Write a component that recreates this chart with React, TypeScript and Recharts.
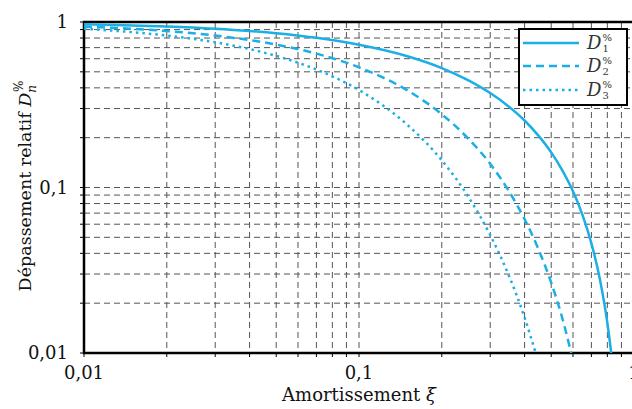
import React from 'react';
import { LineChart, Line, XAxis, YAxis, CartesianGrid, ReferenceArea, Legend } from 'recharts';

const COLOR = '#1AAFE6';
const FONT = '"DejaVu Serif", serif';

// Damping values (xi) and relative overshoot D_n
const xi1 = [0.01, 0.015, 0.02, 0.03, 0.04, 0.05, 0.07, 0.1, 0.15, 0.2, 0.25, 0.3, 0.35, 0.4, 0.45, 0.5, 0.55, 0.6, 0.65, 0.7, 0.75, 0.78, 0.8, 0.82, 0.826];
const d1 = [0.969, 0.954, 0.939, 0.91, 0.882, 0.855, 0.802, 0.729, 0.621, 0.527, 0.444, 0.372, 0.309, 0.254, 0.205, 0.163, 0.126, 0.0948, 0.0681, 0.046, 0.0284, 0.0199, 0.0152, 0.0111, 0.01];

const xi2 = [0.01, 0.015, 0.02, 0.03, 0.04, 0.05, 0.07, 0.1, 0.15, 0.2, 0.25, 0.3, 0.35, 0.4, 0.45, 0.5, 0.55, 0.591];
const d2 = [0.939, 0.91, 0.882, 0.828, 0.778, 0.73, 0.644, 0.532, 0.386, 0.277, 0.197, 0.139, 0.0956, 0.0644, 0.0421, 0.0266, 0.016, 0.01];

const xi3 = [0.01, 0.015, 0.02, 0.03, 0.04, 0.05, 0.07, 0.1, 0.15, 0.2, 0.25, 0.3, 0.35, 0.4, 0.439];
const d3 = [0.91, 0.868, 0.828, 0.754, 0.686, 0.624, 0.516, 0.388, 0.239, 0.146, 0.0877, 0.0516, 0.0296, 0.0164, 0.01];

const xTicks = [0.01, 0.02, 0.03, 0.04, 0.05, 0.06, 0.07, 0.08, 0.09, 0.1, 0.2, 0.3, 0.4, 0.5, 0.6, 0.7, 0.8, 0.9, 1];
const yTicks = [0.01, 0.02, 0.03, 0.04, 0.05, 0.06, 0.07, 0.08, 0.09, 0.1, 0.2, 0.3, 0.4, 0.5, 0.6, 0.7, 0.8, 0.9, 1];
const majorTicks = [0.01, 0.1, 1];
const majorLabels = ['0,01', '0,1', '1'];

const seriesNames = ['1', '2', '3'];
const seriesDash = ['', '8 5', '2.5 4'];

const toData = (xs: number[], ys: number[]) => xs.map((x, i) => ({ x, y: ys[i] }));
const s1 = toData(xi1, d1);
const s2 = toData(xi2, d2);
const s3 = toData(xi3, d3);

const fmt = (v: number) => {
  const i = majorTicks.findIndex((m) => Math.abs(m - v) < 1e-9);
  return i >= 0 ? majorLabels[i] : '';
};

const tickStyle = { fontFamily: FONT, fontSize: 18, fill: '#111' };

const renderXLabel = (props: any) => {
  const vb = props.viewBox || {};
  return (
    <text x={vb.x + vb.width / 2} y={401} textAnchor="middle" fontFamily={FONT} fontSize={18} fill="#111">
      Amortissement <tspan fontStyle="italic">ξ</tspan>
    </text>
  );
};

const renderYLabel = () => (
  <text transform="translate(31,186) rotate(-90)" textAnchor="middle" fontFamily={FONT} fontSize={17.5} fill="#111">
    Dépassement relatif <tspan fontStyle="italic">D</tspan>
    <tspan fontStyle="italic" fontSize={12} dy={5}>n</tspan>
    <tspan fontSize={12} dx={-7} dy={-13}>%</tspan>
  </text>
);

const renderLegend = () => (
  <div
    style={{
      boxSizing: 'border-box',
      width: 110,
      height: 78,
      background: '#fff',
      border: '2.5px solid #000',
      padding: '1px 0 0 3px',
      fontFamily: FONT,
    }}
  >
    {seriesNames.map((n, i) => (
      <div key={n} style={{ display: 'flex', alignItems: 'center', height: 23.5 }}>
        <svg width={56} height={8} style={{ display: 'block' }}>
          <line x1={0} y1={4} x2={56} y2={4} stroke={COLOR} strokeWidth={2.5} strokeDasharray={seriesDash[i] || undefined} />
        </svg>
        <span style={{ marginLeft: 8, fontSize: 18, lineHeight: '20px', fontStyle: 'italic', color: '#333' }}>D</span>
        <span style={{ display: 'inline-flex', flexDirection: 'column', fontSize: 10, lineHeight: '11px', marginLeft: 1, color: '#333' }}>
          <span>%</span>
          <span>{n}</span>
        </span>
      </div>
    ))}
  </div>
);

export default function App() {
  return (
    <div style={{ position: 'absolute', left: 0, top: 0, width: 632, height: 409, overflow: 'hidden', background: '#fff' }}>
      <LineChart width={660} height={409} margin={{ top: 22, right: 26, bottom: 0, left: 0 }}>
        <CartesianGrid stroke="#555" strokeDasharray="6 4" strokeWidth={1} />
        <XAxis
          dataKey="x"
          type="number"
          scale="log"
          domain={[0.01, 1]}
          ticks={xTicks}
          interval={0}
          tickFormatter={fmt}
          tick={tickStyle}
          tickSize={4}
          tickMargin={9}
          tickLine={{ stroke: '#000' }}
          axisLine={false}
          height={56}
          allowDataOverflow
          label={renderXLabel}
        />
        <YAxis
          dataKey="y"
          type="number"
          scale="log"
          domain={[0.01, 1]}
          ticks={yTicks}
          interval={0}
          tickFormatter={fmt}
          tick={tickStyle}
          tickSize={4}
          tickMargin={12}
          tickLine={{ stroke: '#000' }}
          axisLine={false}
          width={84}
          allowDataOverflow
          label={renderYLabel}
        />
        <Line data={s1} dataKey="y" type="monotone" stroke={COLOR} strokeWidth={2.5} dot={false} isAnimationActive={false} />
        <Line data={s2} dataKey="y" type="monotone" stroke={COLOR} strokeWidth={2.5} strokeDasharray={seriesDash[1]} dot={false} isAnimationActive={false} />
        <Line data={s3} dataKey="y" type="monotone" stroke={COLOR} strokeWidth={2.5} strokeDasharray={seriesDash[2]} dot={false} isAnimationActive={false} />
        <ReferenceArea x1={0.01} x2={1} y1={0.01} y2={1} fill="none" stroke="#000" strokeWidth={2.5} ifOverflow="visible" />
        <Legend
          layout="vertical"
          align="center"
          verticalAlign="middle"
          content={renderLegend}
          wrapperStyle={{ position: 'absolute', left: 518, top: 28, width: 110, height: 78 }}
        />
      </LineChart>
    </div>
  );
}
